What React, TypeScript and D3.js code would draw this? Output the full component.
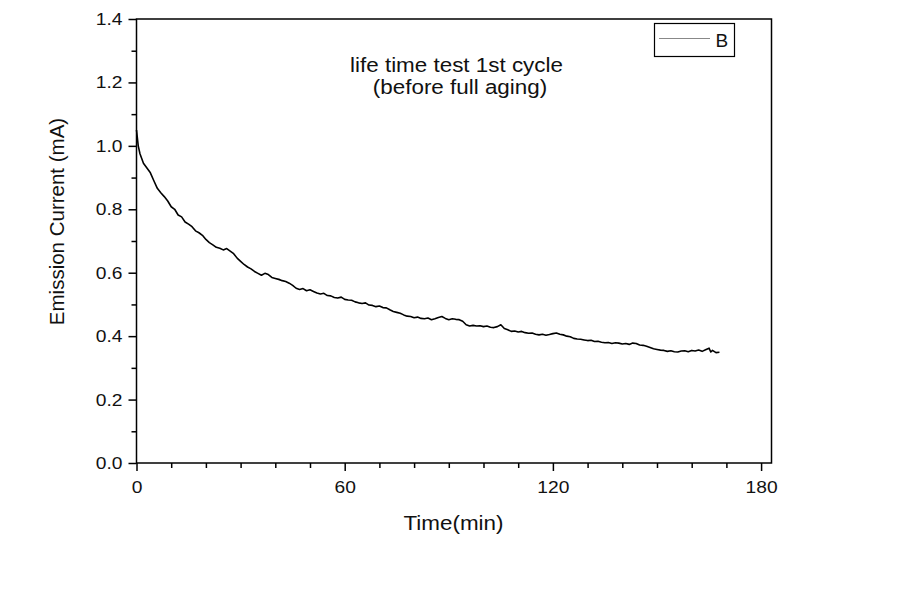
import React, { useEffect, useRef } from 'react';
import * as d3 from 'd3';

// time in minutes (one reading per minute, plus a few early ones)
const timeMin: number[] = [
  0, 0.5, 1, 2, 3, 4, 5, 6, 7, 8, 9, 10, 11, 12, 13, 14, 15, 16, 17, 18, 19, 20,
  21, 22, 23, 24, 25, 26, 27, 28, 29, 30, 31, 32, 33, 34, 35, 36, 37, 38, 39, 40,
  41, 42, 43, 44, 45, 46, 47, 48, 49, 50, 51, 52, 53, 54, 55, 56, 57, 58, 59, 60,
  61, 62, 63, 64, 65, 66, 67, 68, 69, 70, 71, 72, 73, 74, 75, 76, 77, 78, 79, 80,
  81, 82, 83, 84, 85, 86, 87, 88, 89, 90, 91, 92, 93, 94, 95, 96, 97, 98, 99, 100,
  101, 102, 103, 104, 105, 106, 107, 108, 109, 110, 111, 112, 113, 114, 115, 116, 117, 118, 119, 120,
  121, 122, 123, 124, 125, 126, 127, 128, 129, 130, 131, 132, 133, 134, 135, 136, 137, 138, 139, 140,
  141, 142, 143, 144, 145, 146, 147, 148, 149, 150, 151, 152, 153, 154, 155, 156, 157, 158, 159, 160,
  161, 162, 163, 164, 165, 165.5, 166, 167, 168
];

// emission current in mA
const currentMA: number[] = [
  1.05, 1.0, 0.975, 0.945, 0.93, 0.915, 0.89, 0.866, 0.852, 0.84, 0.826, 0.808, 0.8, 0.782, 0.776, 0.76, 0.753, 0.745, 0.732, 0.726, 0.718, 0.705,
  0.695, 0.688, 0.68, 0.677, 0.672, 0.676, 0.668, 0.66, 0.646, 0.636, 0.626, 0.618, 0.612, 0.604, 0.598, 0.592, 0.598, 0.594, 0.585, 0.582,
  0.579, 0.575, 0.572, 0.567, 0.56, 0.551, 0.547, 0.55, 0.543, 0.546, 0.541, 0.536, 0.533, 0.535, 0.528, 0.527, 0.522, 0.52, 0.523, 0.516,
  0.514, 0.513, 0.508, 0.505, 0.503, 0.505, 0.498, 0.497, 0.493, 0.495, 0.49, 0.489, 0.483, 0.478, 0.475, 0.472, 0.467, 0.463, 0.462, 0.458,
  0.46, 0.456, 0.455, 0.457, 0.452, 0.455, 0.459, 0.462, 0.456, 0.452, 0.455, 0.453, 0.452, 0.447, 0.436, 0.432, 0.434, 0.432, 0.433, 0.43,
  0.432, 0.428, 0.427, 0.43, 0.436, 0.424, 0.42, 0.415, 0.416, 0.413, 0.415, 0.411, 0.409, 0.41, 0.406, 0.404, 0.406, 0.403, 0.405, 0.408,
  0.41, 0.406, 0.404, 0.4, 0.398, 0.393, 0.391, 0.39, 0.388, 0.386, 0.387, 0.383, 0.384, 0.381, 0.379, 0.38, 0.377, 0.379, 0.378, 0.375,
  0.377, 0.374, 0.378, 0.377, 0.372, 0.371, 0.368, 0.364, 0.36, 0.358, 0.356, 0.355, 0.352, 0.354, 0.351, 0.35, 0.353, 0.354, 0.351, 0.355,
  0.353, 0.356, 0.352, 0.357, 0.362, 0.35, 0.355, 0.348, 0.349
];

const xTicks = [0, 60, 120, 180];
const yTicks = [0, 0.2, 0.4, 0.6, 0.8, 1.0, 1.2, 1.4];
const titleLines = ['life time test 1st cycle', '(before full aging)'];
const legendLabel = 'B';

const FONT = '"Liberation Sans", Arial, sans-serif';

// the reference text is a little wider than plain Arial, so widen it
const widen = (sel: d3.Selection<any, any, any, any>, k: number) => {
  sel.each(function () {
    const node = this as SVGTextElement;
    const w = node.getComputedTextLength();
    if (w > 0) {
      node.setAttribute('textLength', String(w * k));
      node.setAttribute('lengthAdjust', 'spacingAndGlyphs');
    }
  });
};

const App: React.FC = () => {
  const svgRef = useRef<SVGSVGElement>(null);
  const width = 908;
  const height = 590;

  useEffect(() => {
    document.body.style.margin = '0';
    if (!svgRef.current) return;
    const svg = d3.select(svgRef.current);
    svg.selectAll('*').remove();

    const left = 136.5, right = 771.5, top = 19, bottom = 463;

    const x = d3.scaleLinear().domain([0, 183]).range([left, right]);
    const y = d3.scaleLinear().domain([0, 1.4]).range([bottom, top]);

    // frame
    svg.append('rect')
      .attr('x', left).attr('y', top)
      .attr('width', right - left).attr('height', bottom - top)
      .attr('fill', 'none').attr('stroke', '#000').attr('stroke-width', 1.5);

    // bottom axis
    const xAxis = svg.append('g')
      .attr('transform', `translate(0,${bottom})`)
      .call(d3.axisBottom(x).tickValues(xTicks).tickSize(8).tickPadding(10).tickFormat(d3.format('d')));
    xAxis.append('g')
      .call(d3.axisBottom(x).tickValues(d3.range(10, 181, 10).filter(v => v % 60 !== 0)).tickSize(5).tickFormat(() => ''));

    // left axis
    const yAxis = svg.append('g')
      .attr('transform', `translate(${left},0)`)
      .call(d3.axisLeft(y).tickValues(yTicks).tickSize(8).tickPadding(6).tickFormat(d3.format('.1f')));
    yAxis.append('g')
      .call(d3.axisLeft(y).tickValues(d3.range(0.1, 1.4, 0.2)).tickSize(5).tickFormat(() => ''));

    svg.selectAll('.domain').remove();
    svg.selectAll('.tick line').attr('stroke', '#000').attr('stroke-width', 1.5);
    const tickText = svg.selectAll('.tick text')
      .attr('fill', '#111')
      .style('font-family', FONT)
      .style('font-size', '17px');
    widen(tickText, 1.13);

    // data line
    const pts = timeMin.map((t, i) => [t, currentMA[i]] as [number, number]);
    svg.append('path')
      .datum(pts)
      .attr('fill', 'none')
      .attr('stroke', '#000')
      .attr('stroke-width', 1.6)
      .attr('stroke-linejoin', 'round')
      .attr('d', d3.line<[number, number]>().x(d => x(d[0])).y(d => y(d[1]))(pts) || '');

    // title
    const t1 = svg.append('text')
      .attr('x', 456.5).attr('y', 72)
      .attr('text-anchor', 'middle')
      .style('font-family', FONT).style('font-size', '20px').attr('fill', '#111')
      .text(titleLines[0]);
    const t2 = svg.append('text')
      .attr('x', 460).attr('y', 94)
      .attr('text-anchor', 'middle')
      .style('font-family', FONT).style('font-size', '20px').attr('fill', '#111')
      .text(titleLines[1]);
    widen(t1, 1.12);
    widen(t2, 1.12);

    // legend
    svg.append('rect')
      .attr('x', 654.5).attr('y', 23.5).attr('width', 80).attr('height', 33)
      .attr('fill', '#fff').attr('stroke', '#000').attr('stroke-width', 1.2);
    svg.append('line')
      .attr('x1', 659).attr('x2', 710).attr('y1', 38.5).attr('y2', 38.5)
      .attr('stroke', '#888').attr('stroke-width', 1.2);
    svg.append('text')
      .attr('x', 715.5).attr('y', 47)
      .style('font-family', FONT).style('font-size', '19px').attr('fill', '#111')
      .text(legendLabel);

    // axis titles
    const xt = svg.append('text')
      .attr('x', 453.5).attr('y', 530)
      .attr('text-anchor', 'middle')
      .style('font-family', FONT).style('font-size', '20px').attr('fill', '#111')
      .text('Time(min)');
    widen(xt, 1.12);
    svg.append('text')
      .attr('transform', `translate(64,221.5) rotate(-90)`)
      .attr('text-anchor', 'middle')
      .style('font-family', FONT).style('font-size', '20.5px').attr('fill', '#111')
      .text('Emission Current (mA)');
  }, []);

  return <svg ref={svgRef} width={width} height={height} style={{ display: 'block', background: '#fff' }} />;
};

export default App;
